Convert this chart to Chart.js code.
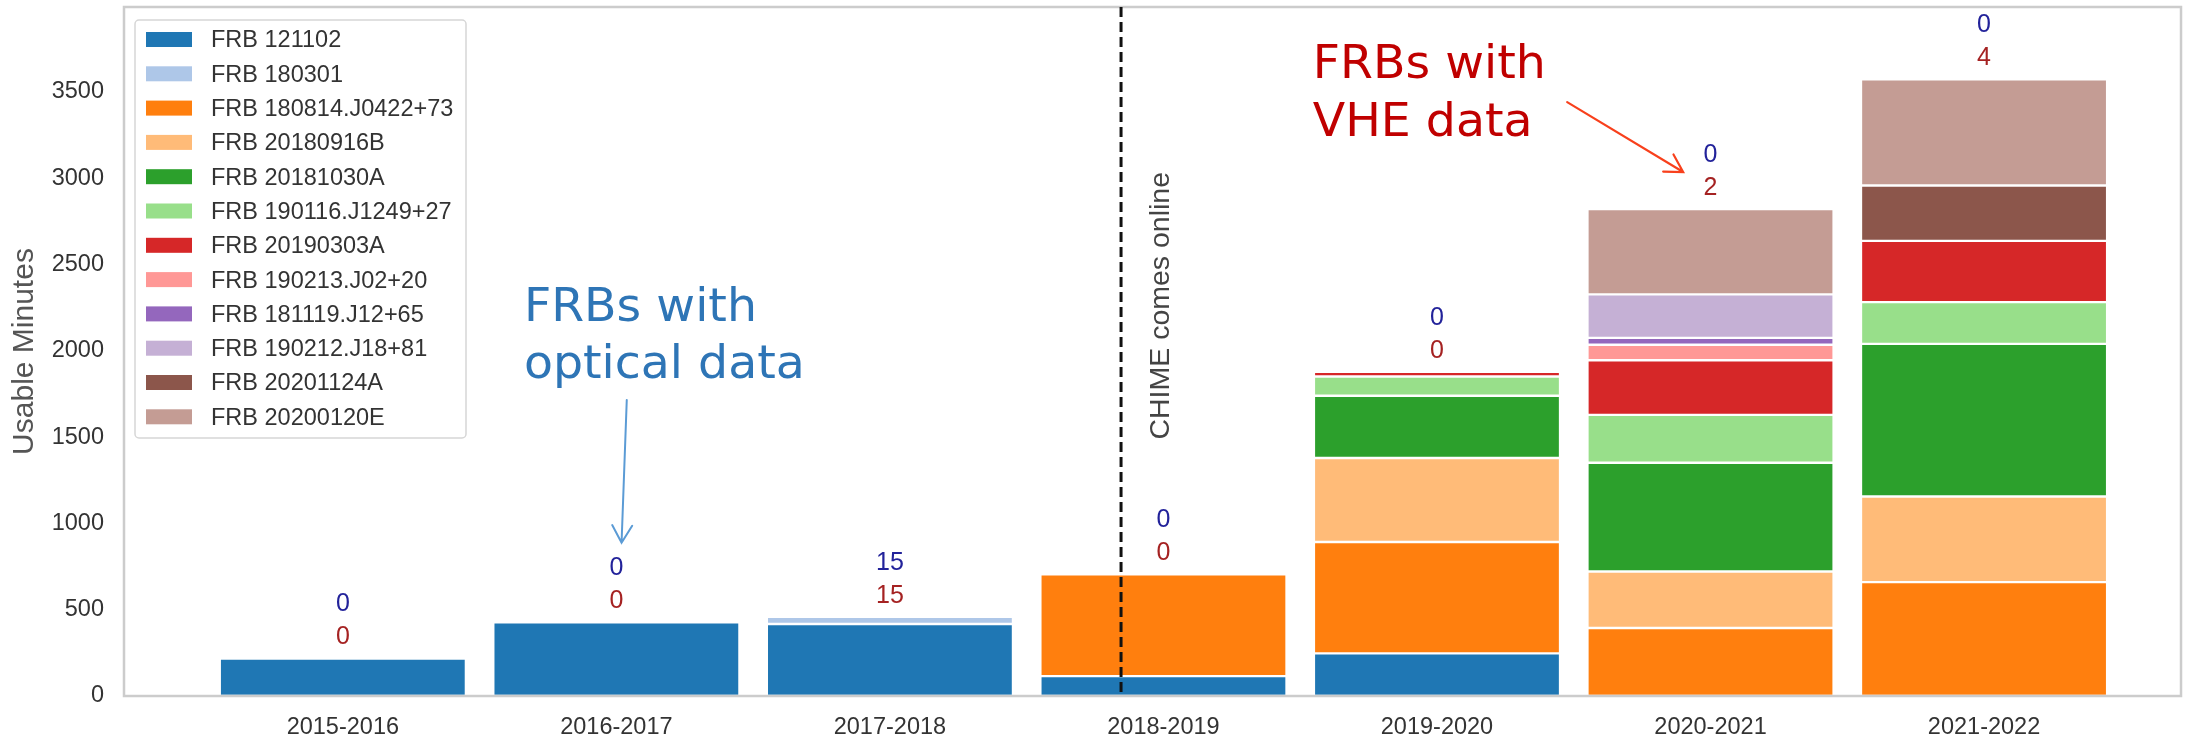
<!DOCTYPE html>
<html>
<head>
<meta charset="utf-8">
<script src="https://cdn.jsdelivr.net/npm/chart.js@4.4.0/dist/chart.umd.min.js"></script>
<style>
  html, body { margin: 0; padding: 0; background: #ffffff; }
</style>
</head>
<body>
<canvas id="chart" width="2209" height="740"></canvas>
<script>
// observing seasons on the x axis
const seasons = ['2015-2016', '2016-2017', '2017-2018', '2018-2019', '2019-2020', '2020-2021', '2021-2022']

// usable minutes per FRB, one value per season
const min121102 = [217, 427, 417, 115, 247, 0, 0]
const min180301 = [0, 0, 42, 0, 0, 0, 0]
const min180814 = [0, 0, 0, 590, 645, 394, 660]
const min20180916B = [0, 0, 0, 0, 487, 327, 496]
const min20181030A = [0, 0, 0, 0, 361, 630, 884]
const min190116 = [0, 0, 0, 0, 111, 278, 242]
const min20190303A = [0, 0, 0, 0, 28, 316, 355]
const min190213 = [0, 0, 0, 0, 0, 90, 0]
const min181119 = [0, 0, 0, 0, 0, 40, 0]
const min190212 = [0, 0, 0, 0, 0, 252, 0]
const min20201124A = [0, 0, 0, 0, 0, 0, 321]
const min20200120E = [0, 0, 0, 0, 0, 495, 615]

const frbNames = [
  'FRB 121102', 'FRB 180301', 'FRB 180814.J0422+73', 'FRB 20180916B',
  'FRB 20181030A', 'FRB 190116.J1249+27', 'FRB 20190303A', 'FRB 190213.J02+20',
  'FRB 181119.J12+65', 'FRB 190212.J18+81', 'FRB 20201124A', 'FRB 20200120E'
]
const seriesMinutes = [
  min121102, min180301, min180814, min20180916B, min20181030A, min190116,
  min20190303A, min190213, min181119, min190212, min20201124A, min20200120E
]

// counts printed above each bar
const opticalCounts = [0, 0, 15, 0, 0, 0, 0]
const vheCounts = [0, 0, 15, 0, 0, 2, 4]

const yTicks = [0, 500, 1000, 1500, 2000, 2500, 3000, 3500]

// CHIME marker, in season units
const chimeOnline = 2.845

const tab20 = [
  '#1f77b4', '#aec7e8', '#ff7f0e', '#ffbb78', '#2ca02c', '#98df8a',
  '#d62728', '#ff9896', '#9467bd', '#c5b0d5', '#8c564b', '#c49c94'
]

Chart.defaults.font.family = "'Liberation Sans', Arial, sans-serif"

function drawArrow(ctx, x1, y1, x2, y2, color, width) {
  const ang = Math.atan2(y2 - y1, x2 - x1)
  const head = 20
  ctx.save()
  ctx.strokeStyle = color
  ctx.lineWidth = width
  ctx.lineCap = 'round'
  ctx.beginPath()
  ctx.moveTo(x1, y1)
  ctx.lineTo(x2, y2)
  ctx.moveTo(x2 - head * Math.cos(ang - Math.PI / 6), y2 - head * Math.sin(ang - Math.PI / 6))
  ctx.lineTo(x2, y2)
  ctx.lineTo(x2 - head * Math.cos(ang + Math.PI / 6), y2 - head * Math.sin(ang + Math.PI / 6))
  ctx.stroke()
  ctx.restore()
}

function drawNote(ctx, lines, x, y0, y1, color) {
  ctx.save()
  ctx.font = "47px 'DejaVu Sans'"
  ctx.fillStyle = color
  ctx.textBaseline = 'alphabetic'
  const squeeze = 233 / ctx.measureText('FRBs with').width
  ;[y0, y1].forEach((y, i) => {
    ctx.save()
    ctx.translate(x, y)
    ctx.scale(squeeze, 1)
    ctx.fillText(lines[i], 0, 0)
    ctx.restore()
  })
  ctx.restore()
}

const overlay = {
  id: 'overlay',
  afterDatasetsDraw(chart) {
    const { ctx, chartArea: area, scales: { x, y } } = chart

    // frame
    ctx.save()
    ctx.strokeStyle = '#cccccc'
    ctx.lineWidth = 2.5
    ctx.strokeRect(area.left, area.top, area.right - area.left, area.bottom - area.top)

    // CHIME line
    const lx = x.getPixelForValue(chimeOnline)
    ctx.strokeStyle = '#111111'
    ctx.lineWidth = 3
    ctx.setLineDash([10, 5])
    ctx.beginPath()
    ctx.moveTo(lx, area.top)
    ctx.lineTo(lx, area.bottom)
    ctx.stroke()
    ctx.setLineDash([])

    ctx.translate(x.getPixelForValue(2.99), y.getPixelForValue(2261))
    ctx.rotate(-Math.PI / 2)
    ctx.font = "28.5px 'Liberation Sans'"
    ctx.fillStyle = '#444444'
    ctx.textAlign = 'center'
    ctx.textBaseline = 'middle'
    ctx.fillText('CHIME comes online', 0, 0)
    ctx.restore()

    // counts above bars
    ctx.save()
    ctx.font = "25px 'Liberation Sans'"
    ctx.textAlign = 'center'
    ctx.textBaseline = 'middle'
    seasons.forEach((s, j) => {
      const total = seriesMinutes.reduce((sum, arr) => sum + arr[j], 0)
      const cx = x.getPixelForValue(j)
      const top = y.getPixelForValue(total)
      ctx.fillStyle = '#a52222'
      ctx.fillText(String(vheCounts[j]), cx, top - 21)
      ctx.fillStyle = '#22229a'
      ctx.fillText(String(opticalCounts[j]), cx, top - 54)
    })
    ctx.restore()

    // annotations
    drawNote(ctx, ['FRBs with', 'optical data'], x.getPixelForValue(0.662),
      y.getPixelForValue(2175), y.getPixelForValue(1841), '#2e75b6')
    drawNote(ctx, ['FRBs with', 'VHE data'], x.getPixelForValue(3.546),
      y.getPixelForValue(3579), y.getPixelForValue(3245), '#c00000')

    drawArrow(ctx, x.getPixelForValue(1.038), y.getPixelForValue(1715),
      x.getPixelForValue(1.019), y.getPixelForValue(888), '#5b9bd5', 2)
    drawArrow(ctx, x.getPixelForValue(4.476), y.getPixelForValue(3441),
      x.getPixelForValue(4.9), y.getPixelForValue(3036), '#f8401c', 2.2)
  },
  afterDraw(chart) {
    const { ctx } = chart
    // legend box in the upper left
    ctx.save()
    ctx.fillStyle = 'rgba(255,255,255,0.9)'
    ctx.strokeStyle = '#d6d6d6'
    ctx.lineWidth = 1.5
    ctx.beginPath()
    ctx.roundRect(135, 20, 331, 418, 4)
    ctx.fill()
    ctx.stroke()
    ctx.font = "23.5px 'Liberation Sans'"
    ctx.textBaseline = 'middle'
    chart.data.datasets.forEach((ds, i) => {
      const rowY = 39.5 + i * 34.3
      ctx.fillStyle = ds.backgroundColor
      ctx.fillRect(146, rowY - 7.5, 46, 15)
      ctx.fillStyle = '#333333'
      ctx.fillText(ds.label, 211, rowY + 1.5)
    })
    ctx.restore()
  }
}

new Chart(document.getElementById('chart'), {
  type: 'bar',
  data: {
    datasets: frbNames.map((name, i) => ({
      label: name,
      data: seriesMinutes[i].map((v, j) => ({ x: j, y: v || null })),
      backgroundColor: tab20[i],
      borderColor: '#ffffff',
      borderWidth: 1.2,
      borderSkipped: false,
      barPercentage: 0.9,
      categoryPercentage: 1
    }))
  },
  options: {
    responsive: false,
    devicePixelRatio: 1,
    animation: false,
    layout: { padding: { left: 0, top: 7, right: 28, bottom: 0 } },
    plugins: {
      legend: { display: false },
      tooltip: { enabled: false }
    },
    scales: {
      x: {
        type: 'linear',
        stacked: true,
        offset: false,
        min: -0.8,
        max: 6.72,
        grid: { display: false, drawTicks: false, offset: false },
        border: { display: false },
        afterBuildTicks: s => { s.ticks = seasons.map((_, i) => ({ value: i })) },
        afterFit: s => { s.height = 44; s.paddingLeft = 0; s.paddingRight = 0 },
        ticks: {
          callback: v => seasons[v],
          color: '#333333',
          font: { size: 23.5 },
          padding: 17,
          maxRotation: 0,
          autoSkip: false
        }
      },
      y: {
        stacked: true,
        min: 0,
        max: 3992,
        grid: { display: false, drawTicks: false },
        border: { display: false },
        afterBuildTicks: s => { s.ticks = yTicks.map(v => ({ value: v })) },
        afterFit: s => { s.width = 124; s.paddingTop = 0; s.paddingBottom = 0 },
        ticks: {
          callback: v => String(v),
          color: '#333333',
          font: { size: 23.5 },
          padding: 20
        },
        title: {
          display: true,
          text: 'Usable Minutes',
          color: '#555555',
          font: { size: 30 },
          padding: { top: 7, bottom: 0 }
        }
      }
    }
  },
  plugins: [overlay]
})
</script>
</body>
</html>
